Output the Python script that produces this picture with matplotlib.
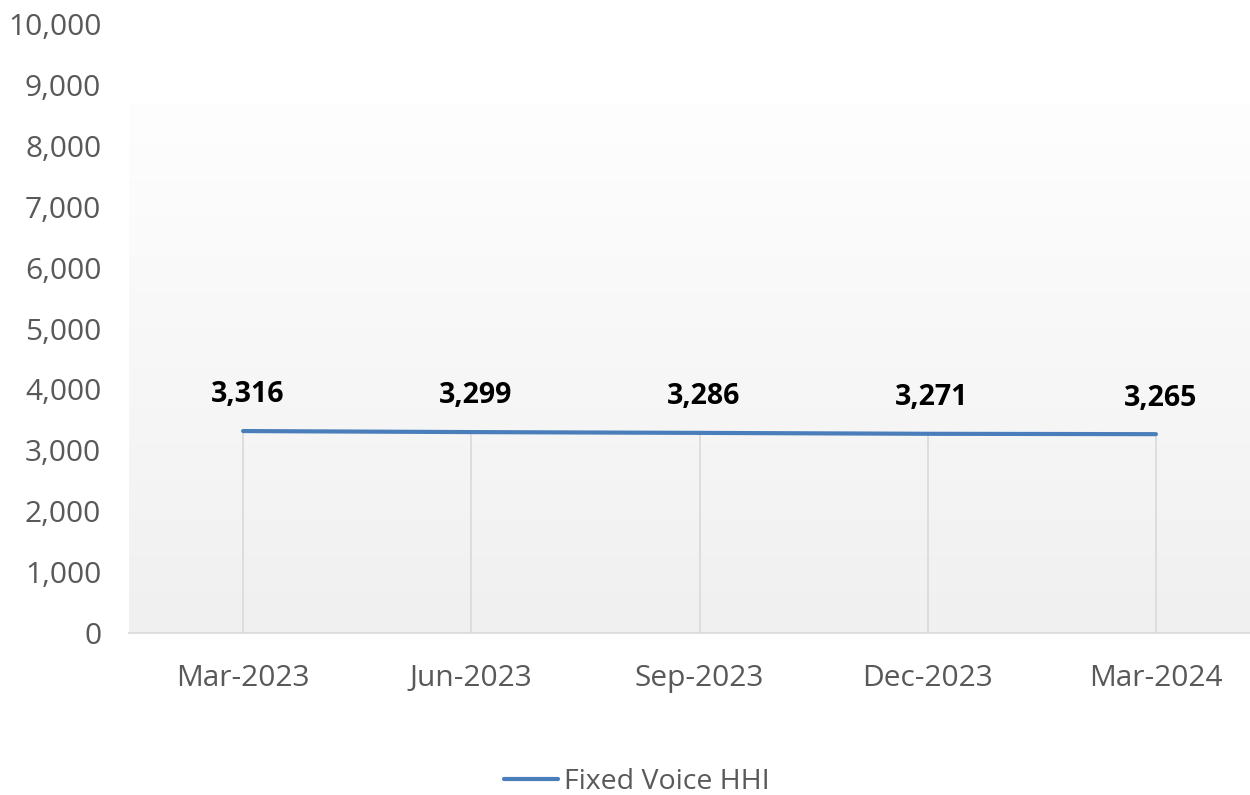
import matplotlib.pyplot as plt
import numpy as np

# data
quarters = ["Mar-2023", "Jun-2023", "Sep-2023", "Dec-2023", "Mar-2024"]
hhi = [3316, 3299, 3286, 3271, 3265]
yticks = list(range(0, 10001, 1000))

plt.rcParams["font.family"] = ["Open Sans", "DejaVu Sans"]

fig = plt.figure(figsize=(12.5, 7.95), dpi=100)
# plot area: x 129..1270 px, y 24..633 px (right side runs off the canvas)
ax = fig.add_axes([129 / 1250, (795 - 633) / 795, 1141 / 1250, 609 / 795])

x = np.arange(len(quarters))

# gradient background (white at top -> light gray at bottom)
grad = np.linspace(0, 1, 256).reshape(-1, 1)
top = np.array([254, 254, 254]) / 255
bot = np.array([240, 240, 240]) / 255
img = top + (bot - top) * grad[:, :, None]
ax.imshow(img, extent=(-0.5, len(quarters) - 0.5, 0, 8700), aspect="auto",
          zorder=0, origin="upper")
ax.set_xlim(-0.5, len(quarters) - 0.5)
ax.set_ylim(0, 10000)

# drop lines
ax.vlines(x, 0, hhi, color="#d9d9d9", lw=1.2, zorder=1)

line, = ax.plot(x, hhi, color="#4a7ebb", lw=3, solid_capstyle="round",
                zorder=3, label="Fixed Voice HHI")

for xi, v in zip(x, hhi):
    ax.annotate(f"{v:,}", (xi, v), xytext=(3, 26), textcoords="offset points",
                ha="center", va="center", fontsize=20.5, fontweight="bold",
                color="black")

for s in ["top", "right", "left"]:
    ax.spines[s].set_visible(False)
ax.spines["bottom"].set_color("#d9d9d9")
ax.spines["bottom"].set_linewidth(1.2)

ax.set_xticks(x)
ax.set_xticklabels(quarters)
ax.set_yticks(yticks)
ax.set_yticklabels([f"{t:,}" for t in yticks])
ax.tick_params(axis="both", length=0, labelsize=21.5, colors="#595959")
ax.tick_params(axis="x", pad=22)
ax.tick_params(axis="y", pad=20)

fig.legend(handles=[line], loc="center", bbox_to_anchor=(637 / 1250, 1 - 782 / 795),
           frameon=False, fontsize=20.5, handlelength=1.9, handletextpad=0.2,
           labelcolor="#595959")

fig.savefig("out.png", dpi=100)
